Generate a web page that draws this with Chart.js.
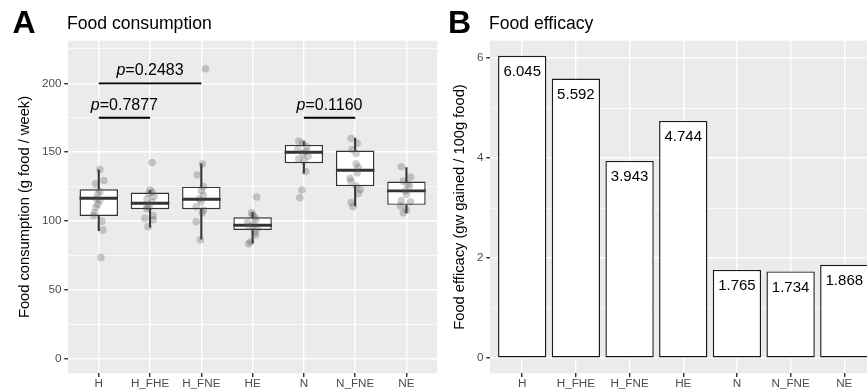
<!DOCTYPE html>
<html><head><meta charset="utf-8">
<script src="https://cdn.jsdelivr.net/npm/chart.js@4.4.0/dist/chart.umd.min.js"></script>
<style>
html,body{margin:0;padding:0;background:#fff;overflow:hidden;width:867px;height:391px;}
#wrap{position:relative;width:867px;height:391px;overflow:hidden;}
canvas{position:absolute;top:0;}
.lbl{position:absolute;font-family:"Liberation Sans",Arial,sans-serif;line-height:1;white-space:nowrap;color:#000;}
.tag{font-weight:bold;font-size:32px;}
.ttl{font-size:17.6px;}
</style></head><body>
<div id="wrap">
<canvas id="cA" width="441" height="391" style="left:0"></canvas>
<canvas id="cB" width="440" height="391" style="left:441px"></canvas>
<div class="lbl tag" style="left:12.5px;top:6px">A</div>
<div class="lbl ttl" style="left:67px;top:15px">Food consumption</div>
<div class="lbl tag" style="left:448px;top:6px">B</div>
<div class="lbl ttl" style="left:489px;top:15px">Food efficacy</div>
</div>
<script>
// ---------- data ----------
const categories = ['H','H_FHE','H_FNE','HE','N','N_FNE','NE'];

// box plot statistics (g food / week)
const boxQ1       = [103.8, 108.6, 108.6,  93.6, 142.0, 125.3, 111.8];
const boxMedian   = [116.6, 113.0, 115.9,  97.0, 150.0, 136.9, 121.9];
const boxQ3       = [123.1, 120.7, 125.0, 102.8, 155.3, 151.2, 128.7];
const whiskerLow  = [ 93.1,  95.6,  86.9,  84.0, 134.8, 111.0, 106.2];
const whiskerHigh = [137.2, 122.1, 141.5, 106.2, 157.7, 160.2, 138.8];

// individual observations and their horizontal jitter (category units)
const pointsH     = [137.5,129.5,127,121.5,119.5,116,115,112,110,106,104,100,93.5,73.5];
const jitterH     = [0.02,0.1,-0.06,0.02,-0.02,-0.04,0.02,-0.02,-0.06,-0.08,-0.1,0.06,0.08,0.04];
const pointsH_FHE = [142.5,122.5,121,120,118,116,114,111,110,109,104,102,101,96];
const jitterH_FHE = [0.04,0,0.04,-0.02,0.08,-0.06,0.04,-0.06,-0.02,-0.06,0.06,-0.1,0.06,-0.04];
const pointsH_FNE = [210.5,141.5,133.5,125,122,119,116,114,110.5,108,106,99.5,86.5];
const jitterH_FNE = [0.08,0.02,-0.08,0.04,0,0.04,-0.04,0,-0.1,0.04,0.02,-0.1,-0.02];
const pointsHE    = [117.5,106,104.5,103,101,99,97,96,95,92,90,85,83.5];
const jitterHE    = [0.08,-0.02,0,0.04,0.06,-0.1,0.02,-0.06,0.1,0.04,0.06,-0.04,-0.08];
const pointsN     = [158,156.5,154,152,150.5,149,147,145,144,136,122.5,117];
const jitterN     = [-0.1,-0.02,0.06,-0.12,0.04,-0.02,0.08,-0.1,0,0.04,-0.04,-0.08];
const pointsN_FNE = [160,156.5,152,149,141.5,139,135,131,129,125.5,123,120,113.5,110.5];
const jitterN_FNE = [-0.08,0.04,-0.06,0.02,0.02,0.06,0.04,-0.1,-0.08,0.02,0.1,0.06,-0.08,-0.04];
const pointsNE    = [139.5,132,129,127,125.5,122,119.5,115,114,111,108,106];
const jitterNE    = [-0.1,0.08,-0.06,0.02,0.06,-0.02,0,-0.1,0.08,-0.12,0,-0.06];

const groupPoints = [pointsH, pointsH_FHE, pointsH_FNE, pointsHE, pointsN, pointsN_FNE, pointsNE];
const groupJitter = [jitterH, jitterH_FHE, jitterH_FNE, jitterHE, jitterN, jitterN_FNE, jitterNE];

// significance comparisons
const sigFrom  = [0, 0, 4];
const sigTo    = [1, 2, 5];
const sigY     = [175, 200, 175];
const sigLabel = ['0.7877', '0.2483', '0.1160'];

// food efficacy
const efficacy = [6.045, 5.592, 3.943, 4.744, 1.765, 1.734, 1.868];

// axis ticks
const consumptionGrid   = [0,25,50,75,100,125,150,175,200,225];
const consumptionLabels = ['0','50','100','150','200'];
const efficacyGrid      = [0,1,2,3,4,5,6];
const efficacyLabels    = ['0','2','4','6'];

// ---------- helpers ----------
const FONT = '"Liberation Sans", Arial, sans-serif';
const panelBg = {
  id: 'panelBg',
  beforeDraw(chart) {
    const {ctx, chartArea: a} = chart;
    ctx.save();
    ctx.fillStyle = '#EBEBEB';
    ctx.fillRect(a.left, a.top, a.right - a.left, a.bottom - a.top);
    ctx.restore();
  }
};

function xScale() {
  return {
    type: 'linear', min: -0.6, max: 6.6, offset: false,
    afterBuildTicks: s => { s.ticks = categories.map((c, i) => ({value: i})); },
    afterFit: s => { s.height = 17.7; },
    ticks: {
      callback: v => categories[v],
      color: '#4D4D4D', font: {family: FONT, size: 11.7, lineHeight: 1.2},
      padding: 0, autoSkip: false, maxRotation: 0, minRotation: 0
    },
    grid: {color: '#FFFFFF', lineWidth: 1.42, tickLength: 3.7, tickColor: '#333333', tickWidth: 1.42, offset: false},
    border: {display: false}
  };
}

function yScale(min, max, gridVals, labels, width, title, titlePad) {
  const isMajor = v => labels.includes(String(v));
  return {
    type: 'linear', min: min, max: max,
    afterBuildTicks: s => { s.ticks = gridVals.map(v => ({value: v})); },
    afterFit: s => { s.width = width; },
    ticks: {
      callback: v => isMajor(v) ? String(v) : '',
      color: '#4D4D4D', font: {family: FONT, size: 11.7, lineHeight: 1.2}, padding: 2.9
    },
    grid: {
      color: '#FFFFFF',
      lineWidth: c => (c.tick && isMajor(c.tick.value)) ? 1.42 : 0.71,
      tickLength: 3.7, tickWidth: 1.42,
      tickColor: c => (c.tick && isMajor(c.tick.value)) ? '#333333' : 'rgba(0,0,0,0)'
    },
    border: {display: false},
    title: {display: true, text: title, color: '#000', font: {family: FONT, size: 14.7, lineHeight: 1.2},
            padding: {top: titlePad, bottom: 0}}
  };
}

// ---------- chart A ----------
const scatterData = [];
groupPoints.forEach((arr, g) => arr.forEach((v, k) => scatterData.push({x: g + groupJitter[g][k], y: v})));

const medianPlugin = {
  id: 'median',
  afterDatasetDraw(chart, args) {
    const ds = chart.data.datasets[args.index];
    if (ds.label !== 'box') return;
    const y = chart.scales.y, ctx = chart.ctx;
    ctx.save();
    ctx.strokeStyle = '#333333';
    ctx.lineWidth = 2.84;
    args.meta.data.forEach((el, i) => {
      const py = y.getPixelForValue(boxMedian[i]);
      ctx.beginPath();
      ctx.moveTo(el.x - el.width / 2, py);
      ctx.lineTo(el.x + el.width / 2, py);
      ctx.stroke();
    });
    ctx.restore();
  }
};

const sigPlugin = {
  id: 'sig',
  afterDatasetsDraw(chart) {
    const {ctx, scales: {x, y}} = chart;
    ctx.save();
    const fN = '16px ' + FONT, fI = 'italic 16px ' + FONT;
    sigFrom.forEach((f, k) => {
      const x1 = x.getPixelForValue(f), x2 = x.getPixelForValue(sigTo[k]), py = y.getPixelForValue(sigY[k]);
      ctx.strokeStyle = '#000'; ctx.lineWidth = 1.8;
      ctx.beginPath(); ctx.moveTo(x1, py); ctx.lineTo(x2, py); ctx.stroke();
      ctx.font = fI; const wp = ctx.measureText('p').width;
      ctx.font = fN; const wr = ctx.measureText('=' + sigLabel[k]).width;
      const sx = (x1 + x2) / 2 - (wp + wr) / 2, by = py - 8;
      ctx.fillStyle = '#000'; ctx.textAlign = 'left'; ctx.textBaseline = 'alphabetic';
      ctx.font = fI; ctx.fillText('p', sx, by);
      ctx.font = fN; ctx.fillText('=' + sigLabel[k], sx + wp, by);
    });
    ctx.restore();
  }
};

new Chart(document.getElementById('cA'), {
  type: 'bar',
  data: {
    datasets: [
      {type: 'scatter', label: 'points', data: scatterData, order: 0,
       pointRadius: 3.8, pointHoverRadius: 3.8, pointBackgroundColor: 'rgba(80,80,80,0.28)', pointBorderWidth: 0},
      {type: 'bar', label: 'box', order: 1, grouped: false,
       data: categories.map((c, i) => ({x: i, y: [boxQ1[i], boxQ3[i]]})),
       barPercentage: 0.75, categoryPercentage: 1,
       backgroundColor: '#FFFFFF', borderColor: '#333333', borderWidth: 1.42, borderSkipped: false},
      {type: 'bar', label: 'whiskerLow', order: 2, grouped: false,
       data: categories.map((c, i) => ({x: i, y: [whiskerLow[i], boxQ1[i]]})),
       barThickness: 1.42, backgroundColor: '#333333', borderWidth: 0},
      {type: 'bar', label: 'whiskerHigh', order: 2, grouped: false,
       data: categories.map((c, i) => ({x: i, y: [boxQ3[i], whiskerHigh[i]]})),
       barThickness: 1.42, backgroundColor: '#333333', borderWidth: 0}
    ]
  },
  options: {
    responsive: false, animation: false, devicePixelRatio: 1,
    layout: {padding: {top: 40.7, left: 0, right: 0, bottom: 0}},
    plugins: {legend: {display: false}, tooltip: {enabled: false}},
    scales: {
      x: xScale(),
      y: yScale(-10.4, 230.9, consumptionGrid, consumptionLabels, 68, 'Food consumption (g food / week)', 16.6)
    }
  },
  plugins: [panelBg, medianPlugin, sigPlugin]
});

// ---------- chart B ----------
const valuePlugin = {
  id: 'values',
  afterDatasetsDraw(chart) {
    const ctx = chart.ctx, meta = chart.getDatasetMeta(0);
    ctx.save();
    ctx.font = '15px ' + FONT; ctx.fillStyle = '#000';
    ctx.textAlign = 'center'; ctx.textBaseline = 'middle';
    meta.data.forEach((el, i) => ctx.fillText(efficacy[i].toFixed(3), el.x, el.y + 16));
    ctx.restore();
  }
};

new Chart(document.getElementById('cB'), {
  type: 'bar',
  data: {
    datasets: [{
      label: 'efficacy',
      data: categories.map((c, i) => ({x: i, y: efficacy[i]})),
      barPercentage: 0.9, categoryPercentage: 1,
      backgroundColor: '#FFFFFF', borderColor: '#1A1A1A', borderWidth: 1.42, borderSkipped: false
    }]
  },
  options: {
    responsive: false, animation: false, devicePixelRatio: 1,
    layout: {padding: {top: 40.7, left: 0, right: 4.5, bottom: 0}},
    plugins: {legend: {display: false}, tooltip: {enabled: false}},
    scales: {
      x: xScale(),
      y: yScale(-0.302, 6.347, efficacyGrid, efficacyLabels, 49, 'Food efficacy (gw gained / 100g food)', 10.6)
    }
  },
  plugins: [panelBg, valuePlugin]
});
</script>
</body></html>
